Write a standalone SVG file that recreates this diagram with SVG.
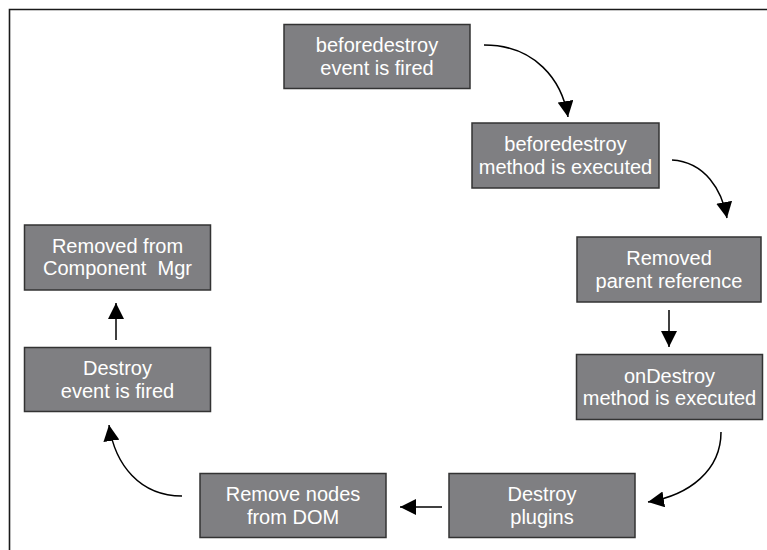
<svg xmlns="http://www.w3.org/2000/svg" width="767" height="550" viewBox="0 0 767 550">
  <defs>
    <style>
      .box { fill: #7f7f82; stroke: #333333; stroke-width: 1.5; }
      .lbl { font-family: "Liberation Sans", Arial, sans-serif; font-size: 20px; fill: #ffffff; text-anchor: middle; }
      .edge { fill: none; stroke: #000000; stroke-width: 1.5; marker-end: url(#head); }
      .frame { fill: none; stroke: #1a1a1a; stroke-width: 1.6; }
    </style>
    <marker id="head" markerUnits="userSpaceOnUse" markerWidth="16" markerHeight="16" viewBox="0 0 14 14" refX="14" refY="7" orient="auto">
      <path d="M0,0 L14,7 L0,14 Z" fill="#000000"/>
    </marker>
  </defs>

  <rect width="767" height="550" fill="#ffffff"/>
  <!-- outer frame: top and left edges -->
  <path class="frame" d="M9.5,550 L9.5,9.5 L767,9.5"/>

  <g id="n1">
    <rect class="box" x="284" y="24.5" width="186" height="64"/>
    <text class="lbl" x="377" y="52">beforedestroy</text>
    <text class="lbl" x="377" y="74.5">event is fired</text>
  </g>
  <g id="n2">
    <rect class="box" x="472" y="123" width="187" height="65"/>
    <text class="lbl" x="565.5" y="151">beforedestroy</text>
    <text class="lbl" x="565.5" y="173.5">method is executed</text>
  </g>
  <g id="n3">
    <rect class="box" x="577" y="237" width="184" height="65"/>
    <text class="lbl" x="669" y="265">Removed</text>
    <text class="lbl" x="669" y="287.5">parent reference</text>
  </g>
  <g id="n4">
    <rect class="box" x="576.5" y="354.5" width="186" height="65"/>
    <text class="lbl" x="669.5" y="382.5">onDestroy</text>
    <text class="lbl" x="669.5" y="405">method is executed</text>
  </g>
  <g id="n5">
    <rect class="box" x="449" y="473.5" width="186" height="64"/>
    <text class="lbl" x="542" y="501">Destroy</text>
    <text class="lbl" x="542" y="523.5">plugins</text>
  </g>
  <g id="n6">
    <rect class="box" x="200" y="473.5" width="186" height="64"/>
    <text class="lbl" x="293" y="501">Remove nodes</text>
    <text class="lbl" x="293" y="523.5">from DOM</text>
  </g>
  <g id="n7">
    <rect class="box" x="24.5" y="347.5" width="186" height="64"/>
    <text class="lbl" x="117.5" y="375">Destroy</text>
    <text class="lbl" x="117.5" y="397.5">event is fired</text>
  </g>
  <g id="n8">
    <rect class="box" x="24.5" y="225" width="186" height="65"/>
    <text class="lbl" x="117.5" y="252.5">Removed from</text>
    <text class="lbl" x="117.5" y="275" xml:space="preserve">Component  Mgr</text>
  </g>

  <g id="connectors">
    <path class="edge" d="M484,45 C535,45 562,80 568,117"/>
    <path class="edge" d="M672,160 C705,162 722,190 727,218"/>
    <path class="edge" d="M669,310 L669,347"/>
    <path class="edge" d="M721,432 C721,470 690,495 648,502"/>
    <path class="edge" d="M442,507 L400,507"/>
    <path class="edge" d="M182,496 C140,496 115,465 109,425"/>
    <path class="edge" d="M116,340 L116,303"/>
  </g>
</svg>
